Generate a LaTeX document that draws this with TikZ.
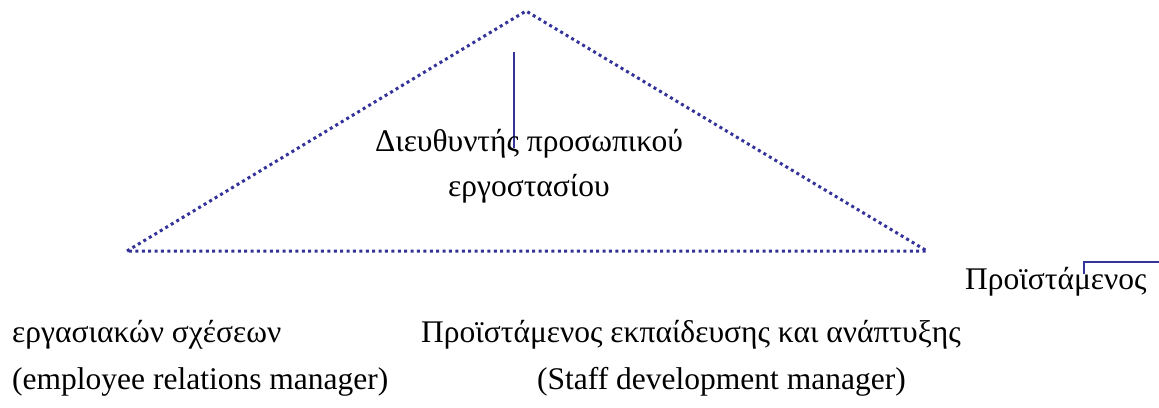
\documentclass[tikz,border=0pt]{standalone}
\usepackage{fontspec}
\setmainfont{Liberation Serif}
\definecolor{navy}{HTML}{33339A}
\begin{document}
\begin{tikzpicture}[x=1pt,y=-1pt,
  dotline/.style={navy, line width=3pt, dash pattern=on 3pt off 3.4pt},
  solidline/.style={navy, line width=2.6pt},
  lbl/.style={font=\fontsize{31.5}{36}\selectfont, inner sep=0pt, text=black}]
\useasboundingbox (0,0) rectangle (1159,407);
% triangle outline
\coordinate (apex) at (526,11);
\coordinate (bl) at (127,251);
\coordinate (br) at (927,251);
\draw[dotline] (bl) -- (apex) -- (br) -- cycle;
% connector stubs
\coordinate (s1) at (514,52);
\coordinate (s2) at (514,148);
\draw[solidline] (s1) -- (s2);
\coordinate (r1) at (1084,274);
\coordinate (r2) at (1084,262);
\coordinate (r3) at (1160,262);
\draw[solidline] (r1) -- (r2) -- (r3);
% labels
\node[lbl, anchor=base] (dir1) at (529,151) {Διευθυντής προσωπικού};
\node[lbl, anchor=base] (dir2) at (529,196) {εργοστασίου};
\node[lbl, anchor=base west] (p1) at (965,289) {Προϊστάμενος};
\node[lbl, anchor=base west] (er) at (12,342) {εργασιακών σχέσεων};
\node[lbl, anchor=base west] (pe) at (421,342) {Προϊστάμενος εκπαίδευσης και ανάπτυξης};
\node[lbl, anchor=base west] (ere) at (12,389) {(employee relations manager)};
\node[lbl, anchor=base west] (sde) at (537,389) {(Staff development manager)};
\end{tikzpicture}
\end{document}
